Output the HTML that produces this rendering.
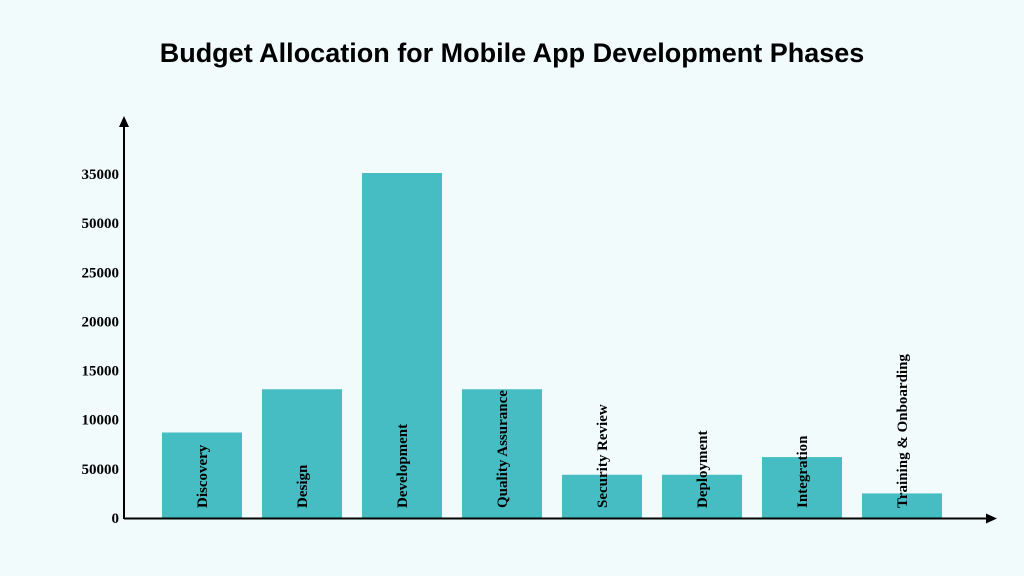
<!DOCTYPE html>
<html><head><meta charset="utf-8"><style>
body{margin:0;background:#f2fbfc;}
svg{display:block;}
</style></head><body>
<svg width="1024" height="576" viewBox="0 0 1024 576">
<rect width="1024" height="576" fill="#f2fbfc"/>
<text x="512" y="62" text-anchor="middle" font-family="Liberation Sans, sans-serif" font-weight="bold" font-size="27" fill="#000">Budget Allocation for Mobile App Development Phases</text>
<g id="plot"></g>
<line x1="124" y1="519" x2="124" y2="124" stroke="#000" stroke-width="2"/>
<polygon points="124,116 119,127 129,127" fill="#000"/>
<line x1="124" y1="518.5" x2="988" y2="518.5" stroke="#000" stroke-width="2"/>
<polygon points="997,518.5 986,513.5 986,523.5" fill="#000"/>
</svg>
<script>
const categories=["Discovery","Design","Development","Quality Assurance","Security Review","Deployment","Integration","Training & Onboarding"];
const values=[8700,13100,35100,13100,4400,4400,6200,2500];
const tickValues=[0,5000,10000,15000,20000,25000,30000,35000];
const tickLabels=["0","50000","10000","15000","20000","25000","50000","35000"];
const ns="http://www.w3.org/2000/svg";
const g=document.getElementById('plot');
const y0=518,pxPer=344/35000;
function yScale(v){return y0-v*pxPer;}
function xScale(i){return 162+i*100;}
const bw=80;
tickValues.forEach((v,i)=>{
  const t=document.createElementNS(ns,'text');
  
  
  t.setAttribute('x',119);t.setAttribute('y',yScale(v)+5);
  t.setAttribute('text-anchor','end');
  t.setAttribute('font-family','Liberation Serif, serif');
  t.setAttribute('font-weight','bold');t.setAttribute('font-size','15');
  t.textContent=tickLabels[i];g.appendChild(t);
});
categories.forEach((c,i)=>{
  const r=document.createElementNS(ns,'rect');
  
  
  r.setAttribute('x',xScale(i));r.setAttribute('y',yScale(values[i]));
  r.setAttribute('width',bw);r.setAttribute('height',y0-yScale(values[i]));
  r.setAttribute('fill','#45bdc2');g.appendChild(r);
  const t=document.createElementNS(ns,'text');
  
  
  const cx=xScale(i)+bw/2+5;
  t.setAttribute('transform','translate('+cx+',508) rotate(-90)');
  t.setAttribute('font-family','Liberation Serif, serif');
  t.setAttribute('font-weight','bold');t.setAttribute('font-size','15');
  t.textContent=c;g.appendChild(t);
});
</script>
</body></html>
